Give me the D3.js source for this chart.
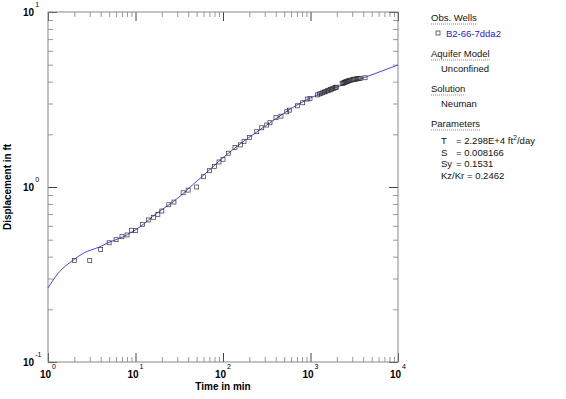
<!DOCTYPE html>
<html>
<head>
<meta charset="utf-8">
<script src="https://cdn.jsdelivr.net/npm/d3@7"></script>
<style>
  body { margin: 0; background: #fff; }
  svg { display: block; font-family: "Liberation Sans", Arial, sans-serif; }
</style>
</head>
<body>
<svg width="566" height="399"></svg>
<script>
// observed drawdown, B2-66-7dda2 (time in min, displacement in ft)
var obsTime = [2, 3, 4, 5, 6, 7, 8, 9, 10, 12, 14, 16, 18, 20, 24, 27.5, 35, 40, 50,
  60, 70, 80, 90, 100, 115, 137, 159, 174, 200, 243, 277, 316, 344, 403, 460, 535, 573,
  707, 814, 919, 987,
  1200, 1260, 1320, 1380, 1440, 1500, 1560, 1620, 1680, 1740, 1800, 1860, 1920, 1980,
  2300, 2350, 2400, 2450, 2500, 2550, 2600, 2650, 2700, 2800, 2900, 3000, 3100, 3200,
  3300, 3400, 3500, 3600, 3700, 4200];
var obsDisp = [0.38, 0.38, 0.44, 0.48, 0.50, 0.52, 0.532, 0.566, 0.563, 0.612, 0.648, 0.671, 0.698, 0.729, 0.792, 0.82, 0.927, 0.96, 1.0,
  1.145, 1.239, 1.313, 1.39, 1.44, 1.56, 1.68, 1.74, 1.82, 1.92, 2.07, 2.18, 2.26, 2.33, 2.49, 2.54, 2.69, 2.75,
  2.91, 3.03, 3.18, 3.21,
  3.36, 3.40, 3.43, 3.46, 3.49, 3.52, 3.55, 3.57, 3.60, 3.62, 3.65, 3.67, 3.70, 3.72,
  3.90, 3.92, 3.94, 3.96, 3.98, 3.99, 4.01, 4.02, 4.04, 4.06, 4.08, 4.10, 4.11, 4.13,
  4.14, 4.15, 4.16, 4.17, 4.18, 4.21];

// fitted Neuman type curve
var curveTime = [1, 1.31, 1.95, 2.53, 3.93, 4.98, 7.25, 11.3, 17.5, 27, 54.6, 115, 316, 759, 1823, 4385, 10000];
var curveDisp = [0.265, 0.322, 0.383, 0.418, 0.456, 0.483, 0.52, 0.593, 0.708, 0.824, 1.121, 1.559, 2.26, 3.01, 3.66, 4.27, 4.98];

var xMajor = [1, 10, 100, 1000, 10000];
var xExp = ["0", "1", "2", "3", "4"];
var yMajor = [0.1, 1, 10];
var yExp = ["-1", "0", "1"];

var legendSections = [
  {head: "Obs. Wells", y: 21},
  {head: "Aquifer Model", y: 57, line: "Unconfined"},
  {head: "Solution", y: 92, line: "Neuman"},
  {head: "Parameters", y: 127}
];
var wellName = "B2-66-7dda2";
var paramNames = ["T", "S", "Sy", "Kz/Kr"];
var paramValues = ["= 2.298E+4 ft", "= 0.008166", "= 0.1531", "= 0.2462"];

(function() {
  var svg = d3.select("svg"),
    pl = 48, pt = 12, pr = 398, pb = 362;

  var x = d3.scaleLog().domain([1, 1e4]).range([pl, pr]);
  var y = d3.scaleLog().domain([0.1, 10]).range([pb, pt]);

  function minors(lo, hi) {
    var out = [];
    for (var d = lo; d < hi; d *= 10)
      for (var k = 2; k <= 9; k++) out.push(d * k);
    return out;
  }
  var xMinor = minors(1, 1e4), yMinor = minors(0.1, 10);

  function styleAxis(g, color) {
    g.select(".domain").remove();
    g.selectAll("line").attr("stroke", color);
    g.selectAll("text").remove();
  }

  // minor ticks, all four sides
  [[d3.axisBottom(x), "translate(0," + pb + ")", xMinor],
   [d3.axisTop(x), "translate(0," + pt + ")", xMinor],
   [d3.axisLeft(y), "translate(" + pl + ",0)", yMinor],
   [d3.axisRight(y), "translate(" + pr + ",0)", yMinor]].forEach(function(a) {
    svg.append("g").attr("transform", a[1])
      .call(a[0].tickValues(a[2]).tickSize(-5).tickFormat(""))
      .call(styleAxis, "#999");
  });
  // major ticks
  [[d3.axisBottom(x), "translate(0," + pb + ")", xMajor],
   [d3.axisTop(x), "translate(0," + pt + ")", xMajor],
   [d3.axisLeft(y), "translate(" + pl + ",0)", yMajor],
   [d3.axisRight(y), "translate(" + pr + ",0)", yMajor]].forEach(function(a) {
    svg.append("g").attr("transform", a[1])
      .call(a[0].tickValues(a[2]).tickSize(-9).tickFormat(""))
      .call(styleAxis, "#444");
  });

  svg.append("rect")
    .attr("x", pl).attr("y", pt)
    .attr("width", pr - pl).attr("height", pb - pt)
    .attr("fill", "none").attr("stroke", "#888").attr("stroke-width", 1);

  // tick labels
  var xl = svg.append("g").selectAll("text").data(xMajor).enter().append("text")
    .attr("x", function(d) { return x(d); })
    .attr("y", 378)
    .attr("text-anchor", "middle")
    .attr("font-size", 10).attr("font-weight", "bold");
  xl.append("tspan").text("10");
  xl.append("tspan").attr("dy", -9).attr("dx", 1).attr("font-size", 7).attr("font-weight", "normal")
    .text(function(d, i) { return xExp[i]; });

  var yl = svg.append("g").selectAll("text").data(yMajor).enter().append("text")
    .attr("x", 23)
    .attr("y", function(d) { return y(d) + 4; })
    .attr("font-size", 10).attr("font-weight", "bold");
  yl.append("tspan").text("10");
  yl.append("tspan").attr("dy", -9).attr("dx", 1).attr("font-size", 7).attr("font-weight", "normal")
    .text(function(d, i) { return yExp[i]; });

  svg.append("text")
    .attr("x", (pl + pr) / 2).attr("y", 390)
    .attr("text-anchor", "middle")
    .attr("font-size", 10).attr("font-weight", "bold")
    .text("Time in min");

  svg.append("text")
    .attr("transform", "translate(11," + (pt + pb) / 2 + ") rotate(-90)")
    .attr("text-anchor", "middle")
    .attr("font-size", 10).attr("font-weight", "bold")
    .text("Displacement in ft");

  // type curve
  var curveData = curveTime.map(function(t, i) { return {t: t, s: curveDisp[i]}; });
  svg.append("path")
    .datum(curveData)
    .attr("fill", "none")
    .attr("stroke", "#4646ff")
    .attr("stroke-width", 1)
    .attr("d", d3.line()
      .x(function(d) { return x(d.t); })
      .y(function(d) { return y(d.s); })
      .curve(d3.curveMonotoneX));

  // observations
  svg.append("g").selectAll("rect")
    .data(obsTime.map(function(t, i) { return {t: t, s: obsDisp[i]}; }))
    .enter().append("rect")
      .attr("x", function(d) { return x(d.t) - 2; })
      .attr("y", function(d) { return y(d.s) - 2; })
      .attr("width", 4).attr("height", 4)
      .attr("fill", "none")
      .attr("stroke", "#333")
      .attr("stroke-width", 0.7);

  // legend panel
  var lg = svg.append("g").attr("font-size", 9.5).attr("fill", "#111");
  legendSections.forEach(function(s) {
    var t = lg.append("text").attr("x", 431).attr("y", s.y).text(s.head);
    var w = t.node().getComputedTextLength();
    lg.append("line")
      .attr("x1", 431).attr("x2", 431 + w)
      .attr("y1", s.y + 3).attr("y2", s.y + 3)
      .attr("stroke", "#888").attr("stroke-dasharray", "1,1");
    if (s.line) lg.append("text").attr("x", 441).attr("y", s.y + 15).text(s.line);
  });
  lg.append("rect").attr("x", 436).attr("y", 31).attr("width", 4).attr("height", 4)
    .attr("fill", "none").attr("stroke", "#444").attr("stroke-width", 0.8);
  lg.append("text").attr("x", 446).attr("y", 37).attr("fill", "#2323d8").text(wellName);

  paramNames.forEach(function(p, i) {
    var yy = 144 + i * 11.5;
    lg.append("text").attr("x", 441).attr("y", yy).text(p);
    var v = lg.append("text").attr("x", p === "Kz/Kr" ? 467 : 456).attr("y", yy).text(paramValues[i]);
    if (i === 0) {
      v.append("tspan").attr("dy", -4).attr("font-size", 7).text("2");
      v.append("tspan").attr("dy", 4).text("/day");
    }
  });
})();
</script>
</body>
</html>
